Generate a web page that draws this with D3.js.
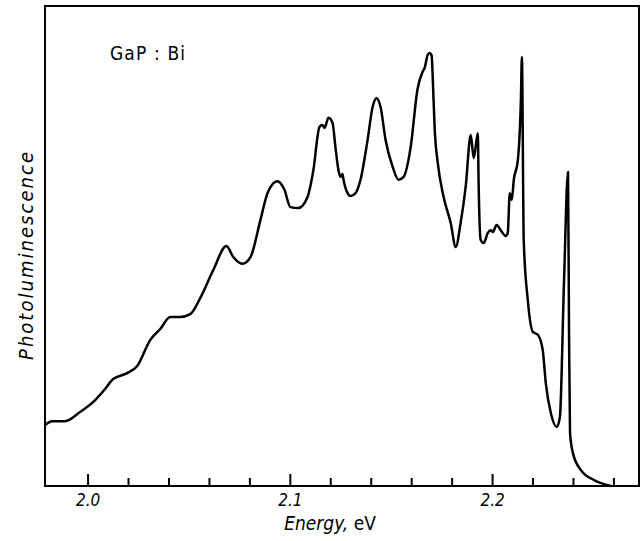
<!DOCTYPE html>
<html>
<head>
<meta charset="utf-8">
<title>GaP:Bi Photoluminescence</title>
<script src="https://d3js.org/d3.v7.min.js"></script>
<style>
  body { margin: 0; background: #fff; }
  svg { display: block; }
  text { font-family: "DejaVu Sans Condensed", "Liberation Sans Narrow", sans-serif; fill: #000; }
  .tick-label { font-size: 17px; font-style: italic; }
</style>
</head>
<body>
<svg id="chart" width="641" height="541"></svg>
<script>
// photon energy (eV)
let energy = [
  1.9787, 1.9822, 1.9886, 1.9960, 2.0035, 2.0084, 2.0124, 2.0193, 2.0243, 2.0307,
  2.0357, 2.0406, 2.0456, 2.0505, 2.0555, 2.0619, 2.0684, 2.0718, 2.0763, 2.0803,
  2.0852, 2.0887, 2.0936, 2.0971, 2.1000, 2.1040, 2.1085, 2.1114, 2.1144, 2.1159,
  2.1169, 2.1189, 2.1209, 2.1223, 2.1238, 2.1248, 2.1258, 2.1263, 2.1283, 2.1298,
  2.1322, 2.1347, 2.1382, 2.1407, 2.1426, 2.1446, 2.1471, 2.1506, 2.1535, 2.1560,
  2.1595, 2.1629, 2.1654, 2.1664, 2.1679, 2.1689, 2.1699, 2.1704, 2.1714, 2.1729,
  2.1758, 2.1793, 2.1818, 2.1842, 2.1867, 2.1892, 2.1907, 2.1927, 2.1931, 2.1941,
  2.1956, 2.1976, 2.1991, 2.2001, 2.2020, 2.2040, 2.2065, 2.2075, 2.2085, 2.2095,
  2.2105, 2.2125, 2.2140, 2.2145, 2.2154, 2.2174, 2.2199, 2.2224, 2.2248, 2.2263,
  2.2288, 2.2318, 2.2333, 2.2353, 2.2373, 2.2378, 2.2383, 2.2397, 2.2437, 2.2501,
  2.2585
];

// photoluminescence intensity (arb. units, 0..100)
let intensity = [
  12.7, 13.5, 13.5, 15.4, 17.9, 20.2, 22.3, 23.5, 25.0, 30.4,
  32.7, 35.2, 35.2, 35.8, 39.2, 45.0, 50.0, 47.7, 46.3, 47.7,
  55.4, 61.0, 63.5, 61.7, 58.1, 57.9, 60.2, 65.8, 74.8, 75.2,
  74.6, 76.7, 75.6, 70.6, 65.8, 64.4, 65.0, 63.8, 61.0, 60.4,
  61.0, 63.8, 72.1, 79.0, 80.8, 79.0, 72.1, 66.5, 63.8, 64.4,
  70.6, 82.7, 86.3, 87.1, 89.8, 90.2, 89.6, 85.2, 74.2, 67.3,
  60.2, 54.8, 49.8, 54.8, 62.3, 73.1, 68.3, 73.5, 63.1, 51.3,
  50.6, 52.7, 53.3, 52.9, 54.4, 53.3, 52.1, 52.7, 61.0, 59.6,
  63.8, 67.9, 80.4, 89.4, 51.3, 38.8, 32.1, 31.5, 28.3, 21.5,
  15.2, 12.3, 14.4, 42.3, 65.4, 32.5, 11.0, 6.9, 3.3, 1.25,
  0
];

let majorTicks = [2.0, 2.1, 2.2];
let majorLabels = ["2.0", "2.1", "2.2"];
let minorTicks = [2.02, 2.04, 2.06, 2.08, 2.12, 2.14, 2.16, 2.18, 2.22, 2.24, 2.26];

let sampleLabel = "GaP : Bi";
let xTitle = "Energy,";
let xUnit = " eV";
let yTitle = "Photoluminescence";

let svg = d3.select("#chart");

let margin = { top: 6, right: 2, bottom: 55, left: 45 };
let width = 641 - margin.left - margin.right;
let height = 541 - margin.top - margin.bottom;

let x = d3.scaleLinear().domain([1.9787, 2.2724]).range([0, 594]);
let y = d3.scaleLinear().domain([0, 100]).range([height, 0]);

let plot = svg.append("g").attr("transform", translate(margin.left, margin.top));

// frame
plot.append("rect")
  .attr("x", 0).attr("y", 0)
  .attr("width", width).attr("height", height)
  .attr("fill", "none").attr("stroke", "#000").attr("stroke-width", 2);

// minor ticks, pointing into the plot
plot.append("g").selectAll("line")
  .data(minorTicks)
  .join("line")
  .attr("x1", d => x(d)).attr("x2", d => x(d))
  .attr("y1", height).attr("y2", height - 8)
  .attr("stroke", "#000").attr("stroke-width", 2);

// major ticks
plot.append("g").selectAll("line")
  .data(majorTicks)
  .join("line")
  .attr("x1", d => x(d)).attr("x2", d => x(d))
  .attr("y1", height).attr("y2", height - 12)
  .attr("stroke", "#000").attr("stroke-width", 2);

// tick labels
plot.append("g").selectAll("text")
  .data(majorTicks)
  .join("text")
  .attr("class", "tick-label")
  .attr("x", d => x(d)).attr("y", height + 20)
  .attr("text-anchor", "middle")
  .text((d, i) => majorLabels[i]);

// spectrum
let points = energy.map((e, i) => [e, intensity[i]]);
let line = d3.line()
  .x(d => x(d[0]))
  .y(d => y(d[1]))
  .curve(d3.curveMonotoneX);

plot.append("path")
  .datum(points)
  .attr("d", line)
  .attr("fill", "none")
  .attr("stroke", "#000")
  .attr("stroke-width", 2.5)
  .attr("stroke-linejoin", "round");

// sample label
svg.append("text")
  .attr("x", 110).attr("y", 60)
  .style("font-size", "19px")
  .attr("textLength", 75)
  .attr("lengthAdjust", "spacing")
  .text(sampleLabel);

// x title
let xt = svg.append("text")
  .attr("x", 330).attr("y", 530)
  .attr("text-anchor", "middle")
  .style("font-size", "19px");
xt.append("tspan").style("font-style", "italic").text(xTitle);
xt.append("tspan").text(xUnit);

// y title
svg.append("text")
  .attr("transform", "translate(33,256) rotate(-90)")
  .attr("text-anchor", "middle")
  .style("font-size", "20px")
  .style("font-style", "italic")
  .attr("textLength", 208)
  .attr("lengthAdjust", "spacing")
  .text(yTitle);

function translate(a, b) {
  return "translate(" + a + "," + b + ")";
}
</script>
</body>
</html>
